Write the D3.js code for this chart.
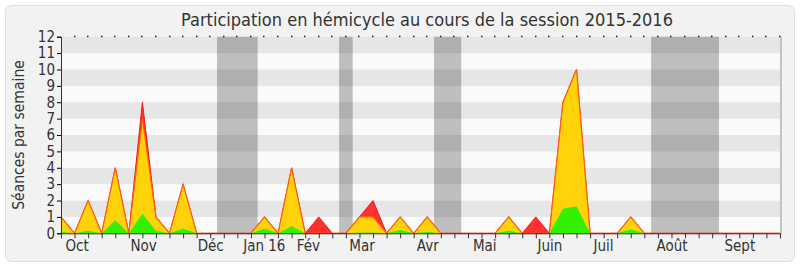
<!DOCTYPE html>
<html>
<head>
<meta charset="utf-8">
<script src="https://cdn.jsdelivr.net/npm/d3@7"></script>
<style>
  html, body { margin: 0; padding: 0; background: #fff; }
  svg text { font-family: "DejaVu Sans Condensed", "DejaVu Sans", sans-serif; fill: #333; }
</style>
</head>
<body>
<svg id="chart" width="800" height="267"></svg>
<script>
// weekly values, one entry per week of the session (Sep 2015 -> Sep 2016)
const presences = [1, 0, 2, 0, 4, 0, 8, 1, 0, 3, 0, 0, 0, 0, 0, 1, 0, 4, 0, 1, 0, 0, 1, 2, 0, 1, 0, 1, 0, 0, 0, 0, 0, 1, 0, 1, 0, 8, 10, 0, 0, 0, 1, 0, 0, 0, 0, 0, 0, 0, 0, 0, 0, 0];
const participations = [1, 0, 2, 0, 4, 0, 7, 1, 0, 3, 0, 0, 0, 0, 0, 1, 0, 4, 0, 0, 0, 0, 1, 1, 0, 1, 0, 1, 0, 0, 0, 0, 0, 1, 0, 0, 0, 8, 10, 0, 0, 0, 1, 0, 0, 0, 0, 0, 0, 0, 0, 0, 0, 0];
const interventions = [0.1, 0, 0.15, 0, 0.8, 0, 1.2, 0.15, 0, 0.3, 0, 0, 0, 0, 0, 0.3, 0, 0.45, 0, 0, 0, 0, 0.05, 0.05, 0, 0.2, 0, 0.1, 0, 0, 0, 0, 0, 0.15, 0, 0, 0, 1.5, 1.65, 0, 0, 0, 0.25, 0, 0, 0, 0, 0, 0, 0, 0, 0, 0, 0];

// parliamentary holidays: first and last week index
const vacances = [[12, 14], [21, 21], [28, 29], [44, 48]];

// month labels and the week they sit on
const monthLabels = ['Oct', 'Nov', 'Déc', 'Jan 16', 'Fév', 'Mar', 'Avr', 'Mai', 'Juin', 'Juil', 'Août', 'Sept'];
const monthWeeks = [1.15, 6.05, 11, 14.95, 18.2, 22.15, 27, 31.2, 36, 39.95, 45, 50];

const yTicks = d3.range(0, 13);

(function() {
    'use strict';

    const svg = d3.select('#chart');
    const left = 61, right = 780, top = 36.7, bottom = 233.3;
    const nWeeks = presences.length;

    const x = d3.scaleLinear().domain([0, nWeeks - 1]).range([left, right]);
    const y = d3.scaleLinear().domain([0, 12]).range([bottom, top]);

    // panel
    svg.append('rect')
        .attr('x', 5.5).attr('y', 5.5).attr('width', 789).attr('height', 256)
        .attr('rx', 6)
        .attr('fill', '#f2f2f2').attr('stroke', '#dedede');

    svg.append('text')
        .attr('x', 427).attr('y', 26)
        .attr('text-anchor', 'middle')
        .style('font-size', '18px')
        .text('Participation en hémicycle au cours de la session 2015-2016');

    // plot background stripes
    svg.append('g').selectAll('rect')
        .data(d3.range(12))
        .enter().append('rect')
        .attr('x', left).attr('width', right - left)
        .attr('y', d => y(d + 1)).attr('height', d => y(d) - y(d + 1))
        .attr('fill', d => d % 2 ? '#e6e6e6' : '#fafafa');

    // right edge shadow
    svg.append('rect')
        .attr('x', right).attr('y', top).attr('width', 2).attr('height', bottom - top)
        .attr('fill', '#c4c4c4');

    // holidays
    svg.append('g').selectAll('rect')
        .data(vacances)
        .enter().append('rect')
        .attr('x', d => x(d[0] - 0.5))
        .attr('width', d => x(d[1] + 0.5) - x(d[0] - 0.5))
        .attr('y', top).attr('height', bottom - top)
        .attr('fill', 'rgba(0,0,0,0.24)');

    const area = d3.area()
        .x((d, i) => x(i))
        .y0(y(0))
        .y1(d => y(d));
    const line = d3.line()
        .x((d, i) => x(i))
        .y(d => y(d));

    svg.append('path').datum(presences)
        .attr('d', area)
        .attr('fill', '#ff3030');
    svg.append('path').datum(presences)
        .attr('d', line)
        .attr('fill', 'none').attr('stroke', '#ee1c1c').attr('stroke-width', 1);

    svg.append('path').datum(participations)
        .attr('d', area)
        .attr('fill', '#ffd20a');
    svg.append('path').datum(participations)
        .attr('d', line)
        .attr('fill', 'none').attr('stroke', '#ff6010').attr('stroke-width', 1.2);

    svg.append('path').datum(interventions)
        .attr('d', area)
        .attr('fill', '#33f000');

    // axes
    const xAxis = svg.append('g')
        .attr('transform', `translate(0,${bottom})`)
        .call(d3.axisBottom(x).tickValues(d3.range(nWeeks)).tickSize(5).tickFormat(''));
    xAxis.select('.domain').attr('stroke', '#4a2a20');
    xAxis.selectAll('.tick line').attr('stroke', '#333');

    const months = svg.append('g')
        .attr('transform', `translate(0,${bottom})`)
        .call(d3.axisBottom(x).tickValues(monthWeeks).tickSize(0)
            .tickFormat((d, i) => monthLabels[i]));
    months.select('.domain').remove();
    months.selectAll('text').attr('dy', 0).attr('y', 18).style('font-size', '15px').attr('fill', '#333');

    // top dots
    svg.append('g').selectAll('rect')
        .data(d3.range(1, nWeeks))
        .enter().append('rect')
        .attr('x', d => Math.round(x(d)) - 1).attr('y', top - 1)
        .attr('width', 1.5).attr('height', 1.5)
        .attr('fill', '#222');

    const yAxis = svg.append('g')
        .attr('transform', `translate(${left},0)`)
        .call(d3.axisLeft(y).tickValues(yTicks).tickSize(4).tickPadding(2));
    yAxis.select('.domain').attr('stroke', '#333');
    yAxis.selectAll('text').style('font-size', '15px').attr('fill', '#333');

    svg.append('text')
        .attr('transform', `translate(24,${(top + bottom) / 2}) rotate(-90)`)
        .attr('text-anchor', 'middle')
        .style('font-size', '15.5px')
        .text('Séances par semaine');
})();
</script>
</body>
</html>
